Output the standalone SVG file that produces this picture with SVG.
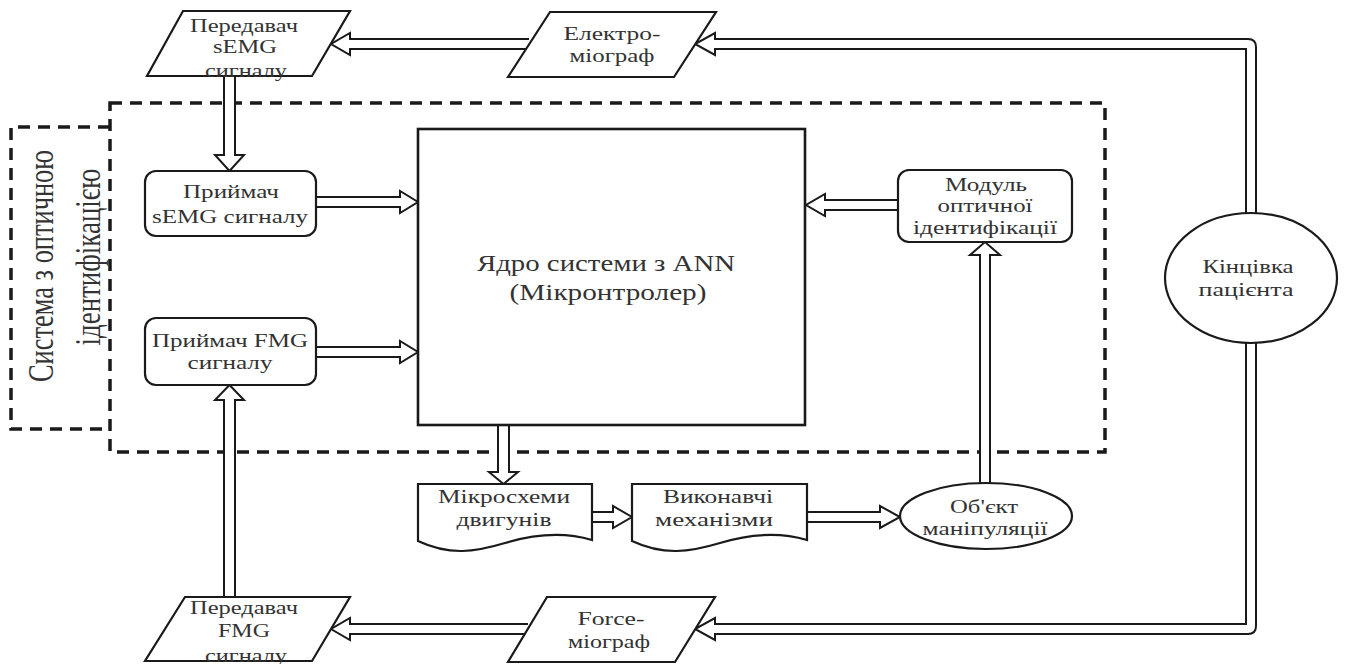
<svg xmlns="http://www.w3.org/2000/svg" width="1346" height="664" viewBox="0 0 1346 664">
<style>
.bg{fill:#fff}
.shape{fill:#fff;stroke:#1a1a1a;stroke-width:2.2}
.core{fill:#fff;stroke:#1a1a1a;stroke-width:2.6}
.dash{fill:none;stroke:#1a1a1a;stroke-width:3.5;stroke-dasharray:12 8}
.arr{fill:#fff;stroke:#1a1a1a;stroke-width:2;stroke-linejoin:miter}
text{font-family:"Liberation Serif","Times New Roman",serif;fill:#333;text-anchor:middle}
.t{font-size:19px}
.tc{font-size:24px}
.tr{font-size:36px}
</style>
<rect class="bg" x="0" y="0" width="1346" height="664"/>

<g id="frame-system">
  <rect class="dash" x="110" y="103" width="995" height="349"/>
</g>
<g id="frame-label">
  <path class="dash" d="M110 127 H11 V429 H110"/>
  <text class="tr" transform="translate(53,266) rotate(-90)" textLength="232" lengthAdjust="spacingAndGlyphs">Система з оптичною</text>
  <text class="tr" transform="translate(100,257) rotate(-90)" textLength="177" lengthAdjust="spacingAndGlyphs">ідентифікацією</text>
</g>

<g id="connectors">
  <!-- Електро-міограф -> Передавач sEMG -->
  <path class="arr" d="M529 39 H350 V33 L331 44 L350 55 V49 H529"/>
  <!-- Кінцівка -> Електро-міограф -->
  <path class="arr" d="M1246 214 V49 H715 V55 L695 44 L715 33 V39 H1248 Q1256 39 1256 47 V214"/>
  <!-- Кінцівка -> Force-міограф -->
  <path class="arr" d="M1246 342 V624 H715 V618 L695 629 L715 640 V634 H1248 Q1256 634 1256 626 V342"/>
  <!-- Force-міограф -> Передавач FMG -->
  <path class="arr" d="M528 624 H350 V618 L331 629 L350 640 V634 H528"/>
  <!-- Передавач sEMG -> Приймач sEMG -->
  <path class="arr" d="M224 76 V155 H215 L229.5 171 L244 155 H235 V76"/>
  <!-- Передавач FMG -> Приймач FMG -->
  <path class="arr" d="M224 597 V400 H215 L229.5 385 L244 400 H235 V597"/>
  <!-- Приймач sEMG -> Ядро -->
  <path class="arr" d="M316 197 H400 V191 L418 202 L400 213 V207 H316"/>
  <!-- Приймач FMG -> Ядро -->
  <path class="arr" d="M316 347 H400 V341 L418 352 L400 363 V357 H316"/>
  <!-- Модуль -> Ядро -->
  <path class="arr" d="M898 200 H825 V194 L806 205 L825 216 V210 H898"/>
  <!-- Ядро -> Мікросхеми -->
  <path class="arr" d="M498 425 V472 H489 L503.5 484 L518 472 H509 V425"/>
  <!-- Мікросхеми -> Виконавчі -->
  <path class="arr" d="M592 512 H613 V506 L632 517 L613 528 V522 H592"/>
  <!-- Виконавчі -> Об'єкт -->
  <path class="arr" d="M807 512 H880 V506 L900 517 L880 528 V522 H807"/>
  <!-- Об'єкт -> Модуль -->
  <path class="arr" d="M980 483 V255 H970 L985 242 L1000 255 H990 V483"/>
</g>

<g id="node-peredavach-semg">
  <polygon class="shape" points="183,11 350,11 312,76 147,76"/>
  <text class="t" x="244" y="32" textLength="108" lengthAdjust="spacingAndGlyphs">Передавач</text>
  <text class="t" x="245" y="53" textLength="64" lengthAdjust="spacingAndGlyphs">sEMG</text>
  <text class="t" x="246" y="77" textLength="82" lengthAdjust="spacingAndGlyphs">сигналу</text>
</g>

<g id="node-elektromiograf">
  <polygon class="shape" points="550,12 716,12 674,77 508,77"/>
  <text class="t" x="612" y="40" textLength="97" lengthAdjust="spacingAndGlyphs">Електро-</text>
  <text class="t" x="612" y="62" textLength="85" lengthAdjust="spacingAndGlyphs">міограф</text>
</g>

<g id="node-pryimach-semg">
  <rect class="shape" x="145" y="171" width="171" height="65" rx="11"/>
  <text class="t" x="231" y="198" textLength="96" lengthAdjust="spacingAndGlyphs">Приймач</text>
  <text class="t" x="230" y="223" textLength="156" lengthAdjust="spacingAndGlyphs">sEMG сигналу</text>
</g>

<g id="node-pryimach-fmg">
  <rect class="shape" x="145" y="318" width="171" height="67" rx="11"/>
  <text class="t" x="230" y="347" textLength="156" lengthAdjust="spacingAndGlyphs">Приймач FMG</text>
  <text class="t" x="230" y="369" textLength="85" lengthAdjust="spacingAndGlyphs">сигналу</text>
</g>

<g id="node-core">
  <rect class="core" x="418" y="129" width="387" height="296"/>
  <text class="tc" x="606" y="271" textLength="258" lengthAdjust="spacingAndGlyphs">Ядро системи з ANN</text>
  <text class="tc" x="608" y="300" textLength="197" lengthAdjust="spacingAndGlyphs">(Мікронтролер)</text>
</g>

<g id="node-modul">
  <rect class="shape" x="898" y="170" width="174" height="72" rx="11"/>
  <text class="t" x="986" y="191" textLength="82" lengthAdjust="spacingAndGlyphs">Модуль</text>
  <text class="t" x="985" y="212" textLength="95" lengthAdjust="spacingAndGlyphs">оптичної</text>
  <text class="t" x="985" y="234" textLength="144" lengthAdjust="spacingAndGlyphs">ідентифікації</text>
</g>

<g id="node-kintsivka">
  <ellipse class="shape" cx="1251" cy="278" rx="86" ry="65"/>
  <text class="t" x="1248" y="273" textLength="91" lengthAdjust="spacingAndGlyphs">Кінцівка</text>
  <text class="t" x="1246" y="296" textLength="95" lengthAdjust="spacingAndGlyphs">пацієнта</text>
</g>

<g id="node-mikroskhemy">
  <path class="shape" d="M418 484 H592 V540 C565 532 535 534 505 543 C475 552 450 556 418 541 Z"/>
  <text class="t" x="504" y="503" textLength="132" lengthAdjust="spacingAndGlyphs">Мікросхеми</text>
  <text class="t" x="504" y="526" textLength="95" lengthAdjust="spacingAndGlyphs">двигунів</text>
</g>

<g id="node-vykonavchi">
  <path class="shape" d="M632 484 H807 V540 C780 532 750 534 720 543 C690 552 664 556 632 541 Z"/>
  <text class="t" x="718" y="503" textLength="110" lengthAdjust="spacingAndGlyphs">Виконавчі</text>
  <text class="t" x="714" y="526" textLength="118" lengthAdjust="spacingAndGlyphs">механізми</text>
</g>

<g id="node-obiekt">
  <ellipse class="shape" cx="986" cy="516" rx="86" ry="33"/>
  <text class="t" x="984" y="513" textLength="68" lengthAdjust="spacingAndGlyphs">Об'єкт</text>
  <text class="t" x="985" y="535" textLength="125" lengthAdjust="spacingAndGlyphs">маніпуляції</text>
</g>

<g id="node-force">
  <polygon class="shape" points="547,597 715,597 675,662 508,662"/>
  <text class="t" x="611" y="625" textLength="67" lengthAdjust="spacingAndGlyphs">Force-</text>
  <text class="t" x="609" y="648" textLength="82" lengthAdjust="spacingAndGlyphs">міограф</text>
</g>

<g id="node-peredavach-fmg">
  <polygon class="shape" points="185,597 350,597 312,661 145,661"/>
  <text class="t" x="244" y="614" textLength="108" lengthAdjust="spacingAndGlyphs">Передавач</text>
  <text class="t" x="244" y="637" textLength="52" lengthAdjust="spacingAndGlyphs">FMG</text>
  <text class="t" x="246" y="662" textLength="82" lengthAdjust="spacingAndGlyphs">сигналу</text>
</g>
</svg>
